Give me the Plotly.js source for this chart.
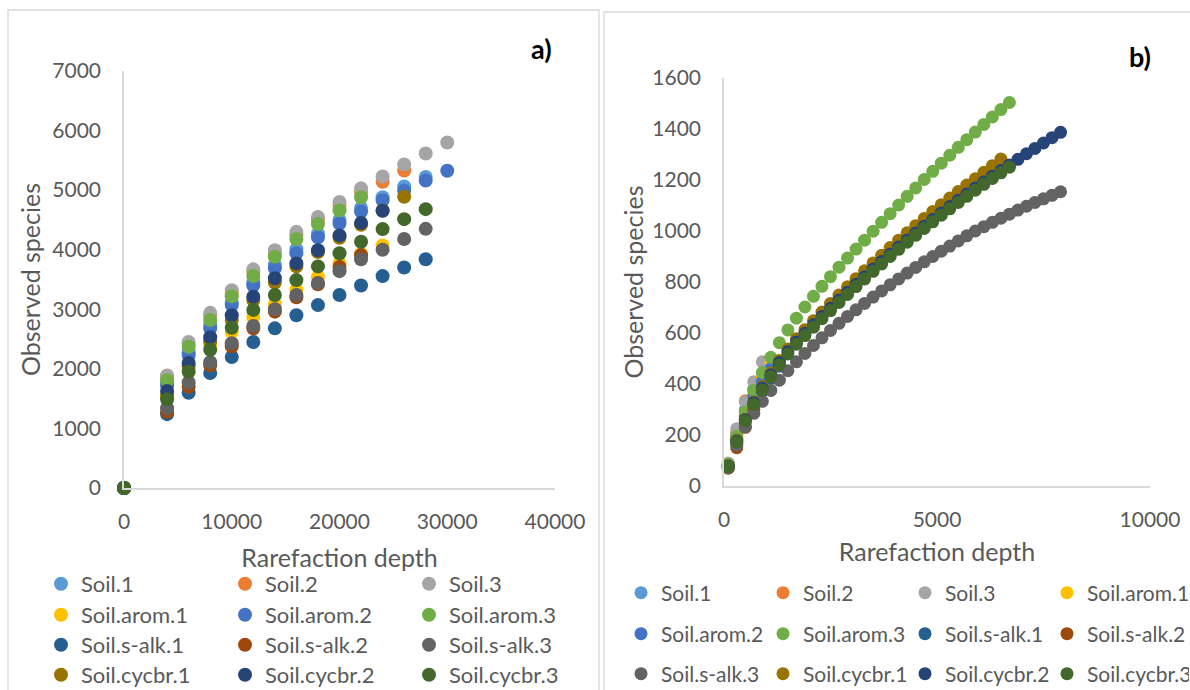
<!DOCTYPE html>
<html>
<head>
<meta charset="utf-8">
<script src="https://cdn.plot.ly/plotly-3.0.1.min.js"></script>
<style>
  html, body { margin: 0; padding: 0; background: #ffffff; }
  #chart { width: 1190px; height: 690px; }
</style>
</head>
<body>
<div id="chart"></div>
<script>
// Sample names and their Office-style colours
const seriesNames = [
  'Soil.1', 'Soil.2', 'Soil.3',
  'Soil.arom.1', 'Soil.arom.2', 'Soil.arom.3',
  'Soil.s-alk.1', 'Soil.s-alk.2', 'Soil.s-alk.3',
  'Soil.cycbr.1', 'Soil.cycbr.2', 'Soil.cycbr.3'
];
const seriesColors = [
  '#5B9BD5', '#ED7D31', '#A5A5A5',
  '#FFC000', '#4472C4', '#70AD47',
  '#255E91', '#9E480E', '#636363',
  '#997300', '#264478', '#43682B'
];

// Panel a) rarefaction depths and observed species
const depthA = [0, 4000, 6000, 8000, 10000, 12000, 14000, 16000, 18000, 20000, 22000, 24000, 26000, 28000, 30000];
const soil1A   = [0, 1760, 2280, 2730, 3110, 3450, 3750, 4010, 4270, 4500, 4700, 4880, 5060, 5220];
const soil2A   = [0, 1870, 2420, 2900, 3280, 3630, 3950, 4250, 4510, 4750, 4970, 5140, 5330];
const soil3A   = [0, 1890, 2450, 2940, 3320, 3670, 3990, 4300, 4550, 4800, 5030, 5230, 5430, 5615, 5800];
const arom1A   = [0, 1520, 1980, 2400, 2620, 2870, 3090, 3330, 3540, 3770, 3930, 4070];
const arom2A   = [0, 1720, 2230, 2680, 3070, 3400, 3690, 3940, 4210, 4440, 4640, 4830, 4990, 5160, 5325];
const arom3A   = [0, 1810, 2370, 2820, 3220, 3560, 3880, 4180, 4430, 4660, 4880];
const salk1A   = [0, 1240, 1600, 1930, 2200, 2450, 2680, 2900, 3070, 3240, 3400, 3557, 3702, 3840];
const salk2A   = [0, 1280, 1700, 2060, 2380, 2680, 2960, 3200, 3420, 3710, 3910];
const salk3A   = [0, 1340, 1770, 2110, 2430, 2720, 3000, 3240, 3440, 3640, 3840, 4000, 4180, 4350];
const cycbr1A  = [0, 1560, 2040, 2460, 2820, 3150, 3450, 3720, 3960, 4200, 4420, 4660, 4890];
const cycbr2A  = [0, 1630, 2100, 2530, 2900, 3210, 3520, 3770, 3990, 4240, 4450, 4655];
const cycbr3A  = [0, 1490, 1950, 2320, 2690, 2990, 3240, 3490, 3720, 3940, 4133, 4346, 4513, 4681];

// Panel b) rarefaction depths and observed species
const depthB = [100, 300, 500, 700, 900, 1100, 1300, 1500, 1700, 1900,
                2100, 2300, 2500, 2700, 2900, 3100, 3300, 3500, 3700, 3900,
                4100, 4300, 4500, 4700, 4900, 5100, 5300, 5500, 5700, 5900,
                6100, 6300, 6500, 6700, 6900, 7100, 7300, 7500, 7700, 7900];
const soil1B   = [82, 200, 300, 380];
const soil2B   = [86, 212, 334];
const soil3B   = [90, 225, 330, 409, 487];
const arom1B   = [80, 190, 280, 360, 425, 487];
const arom2B   = [78, 185, 275, 350, 410, 460];
const arom3B   = [85, 195, 290, 375, 445, 505, 562, 612, 658, 702,
                  744, 783, 821, 858, 894, 929, 964, 999, 1034, 1068,
                  1102, 1136, 1169, 1202, 1234, 1266, 1297, 1328, 1358, 1388,
                  1418, 1447, 1476, 1504];
const salk1B   = [74, 170, 250, 315, 372, 422, 470];
const salk2B   = [70, 150, 230, 300];
const salk3B   = [72, 160, 232, 285, 332, 375, 415, 452, 487, 520,
                  551, 581, 610, 638, 665, 691, 716, 741, 765, 789,
                  812, 835, 857, 879, 900, 921, 941, 961, 981, 1000,
                  1017, 1034, 1050, 1066, 1082, 1097, 1112, 1126, 1140, 1154];
const cycbr1B  = [80, 180, 262, 330, 390, 443, 492, 537, 577, 613,
                  648, 682, 716, 749, 781, 813, 844, 875, 905, 935,
                  964, 993, 1021, 1049, 1076, 1103, 1129, 1155, 1180, 1205,
                  1230, 1256, 1282];
const cycbr2B  = [78, 176, 260, 326, 384, 436, 484, 527, 565, 599,
                  632, 665, 697, 729, 760, 791, 821, 851, 880, 909,
                  937, 965, 992, 1019, 1045, 1071, 1096, 1121, 1145, 1169,
                  1192, 1215, 1237, 1259, 1281, 1303, 1324, 1345, 1366, 1387];
const cycbr3B  = [76, 174, 256, 320, 376, 428, 475, 518, 556, 590,
                  623, 656, 688, 720, 751, 782, 812, 842, 871, 900,
                  928, 956, 983, 1010, 1036, 1062, 1087, 1112, 1136, 1160,
                  1183, 1206, 1228, 1250];

const valuesA = [soil1A, soil2A, soil3A, arom1A, arom2A, arom3A, salk1A, salk2A, salk3A, cycbr1A, cycbr2A, cycbr3A];
const valuesB = [soil1B, soil2B, soil3B, arom1B, arom2B, arom3B, salk1B, salk2B, salk3B, cycbr1B, cycbr2B, cycbr3B];

const FONT = 'Lato, "Open Sans", sans-serif';
const GREY_TEXT = '#595959';
const AXIS_LINE = '#D9D9D9';
const W = 1190, H = 690;
const px = v => v / W;          // pixel -> paper x
const py = v => 1 - v / H;      // pixel -> paper y

const traces = [];
// panel a: 3 legend entries per row, rows use legend .. legend4
valuesA.forEach((vals, i) => {
  const row = Math.floor(i / 3);
  traces.push({
    type: 'scatter', mode: 'markers',
    x: depthA.slice(0, vals.length), y: vals,
    name: seriesNames[i],
    xaxis: 'x', yaxis: 'y',
    legend: row === 0 ? 'legend' : 'legend' + (row + 1),
    marker: { color: seriesColors[i], size: 14, line: { width: 0 } },
    cliponaxis: false,
    hoverinfo: 'x+y+name'
  });
});
// panel b: 4 legend entries per row, rows use legend5 .. legend7
valuesB.forEach((vals, i) => {
  const row = Math.floor(i / 4);
  traces.push({
    type: 'scatter', mode: 'markers',
    x: depthB.slice(0, vals.length), y: vals,
    name: seriesNames[i],
    xaxis: 'x2', yaxis: 'y2',
    legend: 'legend' + (row + 5),
    marker: { color: seriesColors[i], size: 13, line: { width: 0 } },
    cliponaxis: false,
    hoverinfo: 'x+y+name'
  });
});

const tickFont = { family: FONT, size: 21, color: GREY_TEXT };
const titleFont = { family: FONT, size: 25, color: GREY_TEXT };

function axis(extra) {
  return Object.assign({
    showline: true, linecolor: AXIS_LINE, linewidth: 1.5,
    showgrid: false, zeroline: false, ticks: '',
    tickfont: tickFont, fixedrange: true
  }, extra);
}

function legendRow(xPix, yPix, entry, size) {
  return {
    orientation: 'h', x: px(xPix), y: py(yPix),
    xanchor: 'left', yanchor: 'middle',
    entrywidth: entry, entrywidthmode: 'pixels',
    bgcolor: 'rgba(0,0,0,0)', borderwidth: 0,
    font: { family: FONT, size: size, color: GREY_TEXT },
    itemclick: false, itemdoubleclick: false, traceorder: 'normal'
  };
}

const layout = {
  width: W, height: H, autosize: false,
  margin: { l: 0, r: 0, t: 0, b: 0, autoexpand: false },
  paper_bgcolor: '#ffffff', plot_bgcolor: '#ffffff',
  showlegend: true,
  xaxis: axis({
    domain: [px(124), px(555)], anchor: 'y',
    range: [0, 40000], dtick: 10000, tickformat: 'd',
    ticklabelstandoff: 14,
    title: { text: 'Rarefaction depth', font: titleFont, standoff: 18 }
  }),
  yaxis: axis({
    domain: [py(488), py(71)], anchor: 'x',
    range: [0, 7000], dtick: 1000, tickformat: 'd',
    ticklabelstandoff: 17,
    title: { text: 'Observed species', font: titleFont, standoff: 5 }
  }),
  xaxis2: axis({
    domain: [px(724), px(1150)], anchor: 'y2',
    range: [0, 10000], dtick: 5000, tickformat: 'd',
    ticklabelstandoff: 14,
    title: { text: 'Rarefaction depth', font: titleFont, standoff: 14 }
  }),
  yaxis2: axis({
    domain: [py(486), py(78)], anchor: 'x2',
    range: [0, 1600], dtick: 200, tickformat: 'd',
    ticklabelstandoff: 17,
    title: { text: 'Observed species', font: titleFont, standoff: 2 }
  }),
  legend:  legendRow(41, 584, 139, 22),
  legend2: legendRow(41, 615, 139, 22),
  legend3: legendRow(41, 645, 139, 22),
  legend4: legendRow(41, 675, 139, 22),
  legend5: legendRow(621, 593, 97, 21),
  legend6: legendRow(621, 634, 97, 21),
  legend7: legendRow(621, 674, 97, 21),
  annotations: [
    { text: '<b>a)</b>', xref: 'paper', yref: 'paper', x: px(541), y: py(48),
      xanchor: 'center', yanchor: 'middle', showarrow: false,
      font: { family: FONT, size: 27, color: '#000000' } },
    { text: '<b>b)</b>', xref: 'paper', yref: 'paper', x: px(1140), y: py(56),
      xanchor: 'center', yanchor: 'middle', showarrow: false,
      font: { family: FONT, size: 27, color: '#000000' } }
  ],
  shapes: [
    // chart-area frames
    { type: 'rect', xref: 'paper', yref: 'paper', x0: px(8), x1: px(599), y0: py(700), y1: py(10),
      line: { color: AXIS_LINE, width: 1.3 }, fillcolor: 'rgba(0,0,0,0)', layer: 'below' },
    { type: 'rect', xref: 'paper', yref: 'paper', x0: px(604), x1: px(1200), y0: py(700), y1: py(12),
      line: { color: AXIS_LINE, width: 1.3 }, fillcolor: 'rgba(0,0,0,0)', layer: 'below' }
  ]
};

Plotly.newPlot('chart', traces, layout, { displayModeBar: false });
</script>
</body>
</html>
